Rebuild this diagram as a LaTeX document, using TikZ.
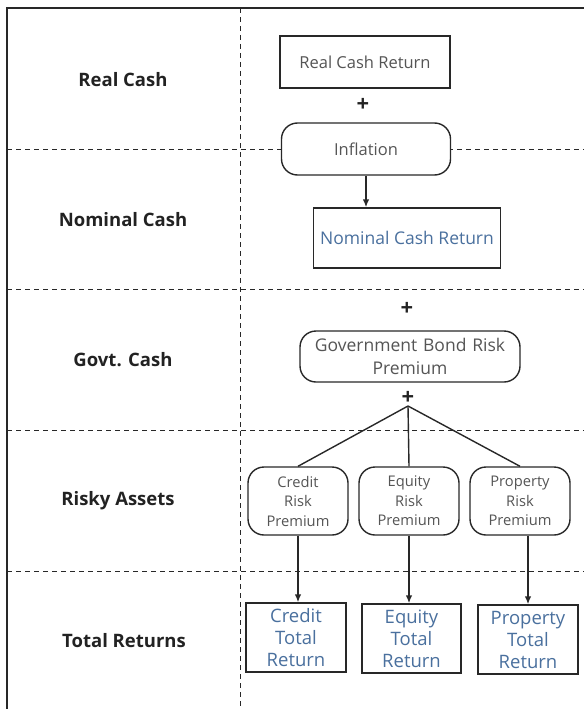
\documentclass[tikz,border=0pt]{standalone}
\usepackage{fontspec}
\setmainfont{Open Sans}
\usetikzlibrary{arrows.meta}
\definecolor{labeltext}{RGB}{34,34,34}
\definecolor{boxtext}{RGB}{85,85,85}
\definecolor{resulttext}{RGB}{74,112,158}
\definecolor{frameline}{RGB}{40,40,40}

\begin{document}
\begin{tikzpicture}[x=1pt,y=-1pt,
	rowlabel/.style={font=\fontsize{18.5}{22}\selectfont\bfseries, text=labeltext},
	sqbox/.style={draw=frameline, line width=1.4pt, fill=white, inner sep=0pt, align=center, text=boxtext},
	rndbox/.style={sqbox, rounded corners=16pt},
	plus/.style={font=\fontsize{22}{22}\selectfont\bfseries, text=labeltext, inner sep=0pt},
	divider/.style={draw=frameline, line width=1pt, dash pattern=on 5pt off 4pt},
	link/.style={draw=frameline, line width=1.4pt},
	arrow/.style={link, -{Latex[length=8pt,width=6.5pt]}}]
	
	\useasboundingbox (0,0) rectangle (584,709);
	
	% frame and grid
	\draw[link] (7,709) -- (7,8) -- (584,8);
	\draw[divider] (240,8) -- (240,709);
	\foreach \y in {149,289,430,571} {
		\draw[divider] (7,\y) -- (584,\y);
	}
	
	% row labels
	\node[rowlabel] (lreal) at (123,80) {Real Cash};
	\node[rowlabel] (lnom) at (123,220) {Nominal Cash};
	\node[rowlabel] (lgovt) at (123,360) {Govt. Cash};
	\node[rowlabel] (lrisky) at (118,501) {Risky Assets};
	\node[rowlabel] (ltotal) at (124,641) {Total Returns};
	
	% cash
	\node[sqbox, minimum width=170pt, minimum height=52pt, font=\fontsize{16.5}{20}\selectfont] (realret) at (365,62) {Real Cash Return};
	\node[plus] (plusa) at (363,105) {+};
	\node[rndbox, minimum width=169pt, minimum height=52pt, font=\fontsize{16.5}{20}\selectfont] (infl) at (366,149) {Inflation};
	\node[sqbox, minimum width=187pt, minimum height=60pt, font=\fontsize{17.5}{21}\selectfont, text=resulttext] (nomret) at (407,238) {Nominal Cash Return};
	\draw[arrow] (infl.south) -- (infl.south |- nomret.north);
	
	% govt
	\node[plus] (plusb) at (407,309) {+};
	\node[rndbox, minimum width=220pt, minimum height=51pt, text width=216pt, font=\fontsize{17.5}{23}\selectfont] (govt) at (410,356.5) {Government Bond Risk\\Premium};
	\node[plus] (plusc) at (408,398) {+};
	\coordinate (fork) at (408,406);
	
	% risky assets
	\node[rndbox, minimum width=100pt, minimum height=68pt, text width=98pt, font=\fontsize{14.7}{19.5}\selectfont] (credprem) at (298,501) {Credit\\Risk\\Premium};
	\node[rndbox, minimum width=100pt, minimum height=68pt, text width=98pt, font=\fontsize{14.7}{19.5}\selectfont] (eqprem) at (409,501) {Equity\\Risk\\Premium};
	\node[rndbox, minimum width=100pt, minimum height=68pt, text width=98pt, font=\fontsize{14.7}{19.5}\selectfont] (propprem) at (520,501) {Property\\Risk\\Premium};
	\draw[link] (fork) -- (credprem.north);
	\draw[link] (fork) -- (eqprem.north);
	\draw[link] (fork) -- (propprem.north);
	
	% total returns
	\node[sqbox, minimum width=100pt, minimum height=69pt, text width=98pt, font=\fontsize{18.5}{22}\selectfont, text=resulttext] (credtot) at (296,637.5) {Credit\\Total\\Return};
	\node[sqbox, minimum width=99pt, minimum height=69pt, text width=97pt, font=\fontsize{18.5}{22}\selectfont, text=resulttext] (eqtot) at (411.5,638.5) {Equity\\Total\\Return};
	\node[sqbox, minimum width=100pt, minimum height=69pt, text width=98pt, font=\fontsize{18.5}{22}\selectfont, text=resulttext] (proptot) at (528,639.5) {Property\\Total\\Return};
	\draw[arrow] (credprem.south) -- (credprem.south |- credtot.north);
	\draw[arrow] (eqprem.south) -- (eqprem.south |- eqtot.north);
	\draw[arrow] (proptot.north |- propprem.south) -- (proptot.north);
	
\end{tikzpicture}
\end{document}
